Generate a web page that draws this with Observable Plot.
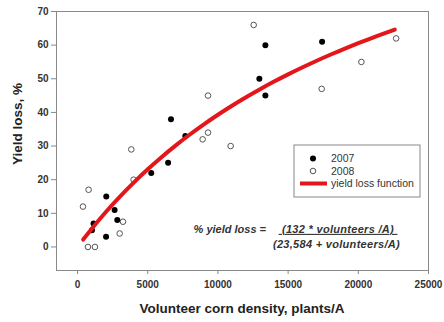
<!DOCTYPE html>
<html>
<head>
<meta charset="utf-8">
<script src="https://cdn.jsdelivr.net/npm/d3@7"></script>
<script src="https://cdn.jsdelivr.net/npm/@observablehq/plot@0.6"></script>
<style>
  html, body { margin: 0; padding: 0; background: #fff; }
</style>
</head>
<body>
<div id="chart"></div>
<script>
// Observed data, 2007 (filled circles)
const density2007 = [1026, 1140, 2030, 2046, 2640, 2830, 5250, 6450, 6655, 7677, 12950, 13380, 13380, 17420];
const loss2007    = [5, 7, 3, 15, 11, 8, 22, 25, 38, 33, 50, 45, 60, 61];

// Observed data, 2008 (open circles)
const density2008 = [385, 741, 787, 1240, 3000, 3236, 3827, 3991, 8910, 9294, 9294, 10905, 12546, 17390, 20220, 22695];
const loss2008    = [12, 0, 17, 0, 4, 7.5, 29, 20, 32, 34, 45, 30, 66, 47, 55, 62];

// Yield loss function printed on the chart: 132*x/(23584+x)
const fitA = 132;
const fitB = 23584;
const curveDensity = [400, 1000, 2000, 3000, 4000, 5000, 6000, 7000, 8000, 9000, 10000, 11000, 12000, 13000, 14000, 15000, 16000, 17000, 18000, 19000, 20000, 21000, 22000, 22600];

// Axis ticks
const xTicks = [0, 5000, 10000, 15000, 20000, 25000];
const yTicks = [0, 10, 20, 30, 40, 50, 60, 70];

const xLabel = "Volunteer corn density, plants/A";
const yLabel = "Yield loss, %";
const legendLabels = ["2007", "2008", "yield loss function"];
const formulaLeft = "% yield loss =";
const formulaNum = "(132 * volunteers /A)";
const formulaDen = "(23,584 + volunteers/A)";

const pts2007 = density2007.map((d, i) => ({x: d, y: loss2007[i]}));
const pts2008 = density2008.map((d, i) => ({x: d, y: loss2008[i]}));
const curve = curveDensity.map(x => ({x, y: fitA * x / (fitB + x)}));

const FONT = "'Liberation Sans', Arial, Helvetica, sans-serif";
const RED = "#e3161b";

function overlay(index, scales, values, dims) {
  const right = dims.width - dims.marginRight;   // 428
  const top = dims.marginTop;                    // 11
  const g = d3.create("svg:g").attr("font-family", FONT).attr("text-anchor", "start");
  // legend box
  const bx = right - 134, by = top + 134, bw = 126, bh = 52;
  g.append("rect").attr("x", bx).attr("y", by).attr("width", bw).attr("height", bh)
    .attr("fill", "white").attr("stroke", "#888").attr("stroke-width", 1);
  const rows = [by + 13.5, by + 26, by + 38.5];
  g.append("circle").attr("cx", bx + 19).attr("cy", rows[0]).attr("r", 3).attr("fill", "black");
  g.append("circle").attr("cx", bx + 19).attr("cy", rows[1]).attr("r", 2.8).attr("fill", "white").attr("stroke", "#555").attr("stroke-width", 1);
  g.append("line").attr("x1", bx + 6).attr("x2", bx + 33).attr("y1", rows[2]).attr("y2", rows[2])
    .attr("stroke", RED).attr("stroke-width", 4);
  legendLabels.forEach((t, i) => {
    g.append("text").attr("x", bx + 37).attr("y", rows[i]).attr("dy", "0.35em")
      .attr("text-anchor", "start").attr("font-size", 10.5).attr("fill", "#333").text(t);
  });
  // formula
  const fy1 = 229, fy2 = 244;
  const fg = g.append("g").attr("font-size", 11).attr("font-weight", "bold").attr("font-style", "italic").attr("fill", "#333");
  fg.append("text").attr("x", 266).attr("y", fy1).attr("dy", "0.35em").attr("text-anchor", "end").text(formulaLeft);
  fg.append("text").attr("x", 338).attr("y", fy1).attr("dy", "0.35em").attr("text-anchor", "middle")
    .attr("text-decoration", "underline").attr("letter-spacing", 0.3)
    .text("\u00a0" + formulaNum + "\u00a0");
  fg.append("text").attr("x", 336.5).attr("y", fy2).attr("dy", "0.35em").attr("text-anchor", "middle")
    .attr("letter-spacing", 0.3).text(formulaDen);
  // axis titles
  g.append("text").attr("x", (dims.marginLeft + right) / 2).attr("y", 308).attr("dy", "0.35em")
    .attr("text-anchor", "middle").attr("font-size", 13.5).attr("font-weight", "bold").attr("fill", "#222").text(xLabel);
  g.append("text").attr("transform", "translate(17,124) rotate(-90)").attr("dy", "0.35em")
    .attr("text-anchor", "middle").attr("font-size", 13.5).attr("font-weight", "bold").attr("fill", "#222").text(yLabel);
  return g.node();
}

const chart = Plot.plot({
  width: 444,
  height: 322,
  marginLeft: 56,
  marginRight: 16,
  marginTop: 11,
  marginBottom: 52,
  style: {fontFamily: FONT, background: "white", overflow: "visible"},
  x: {domain: [-1500, 25000]},
  y: {domain: [-7, 70]},
  marks: [
    Plot.frame({stroke: "#8a8a8a"}),
    Plot.axisX({ticks: xTicks, tickSize: 4, tickPadding: 6, label: null, tickFormat: d => String(d),
      fontSize: 10, fontWeight: "bold", fill: "#333", stroke: "#888"}),
    Plot.axisY({ticks: yTicks, tickSize: 5, tickPadding: 3, label: null, tickFormat: d => String(d),
      fontSize: 10, fontWeight: "bold", fill: "#333", stroke: "#888"}),
    Plot.dot(pts2008, {x: "x", y: "y", r: 2.8, fill: "white", stroke: "#555", strokeWidth: 1}),
    Plot.dot(pts2007, {x: "x", y: "y", r: 3, fill: "black"}),
    Plot.line(curve, {x: "x", y: "y", stroke: RED, strokeWidth: 4, curve: "natural"}),
    overlay
  ]
});
document.getElementById("chart").appendChild(chart);
</script>
</body>
</html>
